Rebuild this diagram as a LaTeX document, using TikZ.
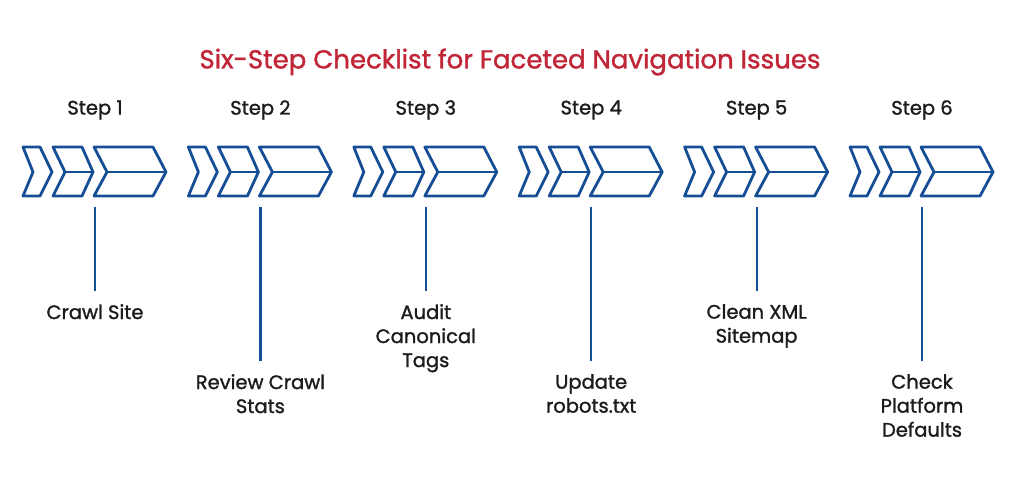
\documentclass[tikz,border=0pt]{standalone}
\usepackage{fontspec}
\setmainfont{Poppins}[FakeBold=1.3]
\definecolor{stepblue}{RGB}{22,78,150}
\definecolor{titlered}{RGB}{192,38,56}
\definecolor{inkgray}{RGB}{28,28,28}
\begin{document}
\begin{tikzpicture}[x=1pt,y=-1pt,
    chev/.style={draw=stepblue, line width=2.8pt, line join=round, line cap=round},
    stem/.style={draw=stepblue, line width=2.2pt},
    steplbl/.style={font=\fontsize{19.5}{22}\selectfont, text=inkgray},
    tasklbl/.style={font=\fontsize{19.5}{24}\selectfont, text=inkgray, align=center, anchor=north, inner sep=0pt}]
    \useasboundingbox (0,0) rectangle (1024,498);
    \node[font=\fontsize{26}{30}\selectfont, text=titlered] (title) at (510,62) {Six-Step Checklist for Faceted Navigation Issues};

    \foreach \i/\what/\ly in {1/{Crawl Site}/304, 2/{Review Crawl\\Stats}/374, 3/{Audit\\Canonical\\Tags}/304,
                              4/{Update\\robots.txt}/374, 5/{Clean XML\\Sitemap}/304, 6/{Check\\Platform\\Defaults}/374} {
        \pgfmathsetmacro\gx{23+165.4*(\i-1)}
        % three chevrons
        \draw[chev] (\gx,147) -- ++(17,0) -- ++(12,25) -- ++(-12,24) -- ++(-17,0) -- ++(10,-24) -- cycle;
        \draw[chev] (\gx+30,147) -- ++(29,0) -- ++(11,25) -- ++(-11,24) -- ++(-29,0) -- ++(12,-24) -- cycle;
        \draw[chev] (\gx+42,172) -- (\gx+70,172);
        \draw[chev] (\gx+71,147) -- ++(59,0) -- ++(13,25) -- ++(-13,24) -- ++(-59,0) -- ++(13,-24) -- cycle;
        \draw[chev] (\gx+84,172) -- (\gx+143,172);
        \node[steplbl] (step\i) at (\gx+72,110) {Step \i};
        \coordinate (top\i) at (\gx+72,207);
        \node[tasklbl] (task\i) at (\gx+72,\ly) {\what};
        \draw[stem, shorten >=13pt] (top\i) -- (task\i.north);
    }
\end{tikzpicture}
\end{document}
